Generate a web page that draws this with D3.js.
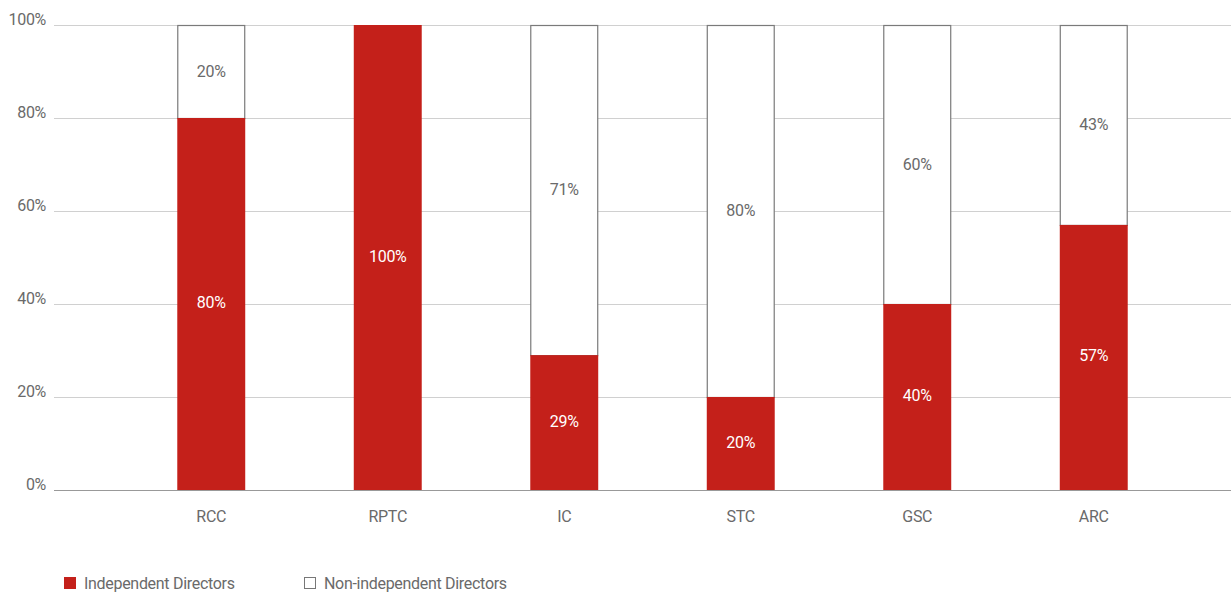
<!DOCTYPE html>
<html>
  <head>
    <meta charset="utf-8">
    <title>Independent Directors</title>
    <style>
      body { margin: 0; background: white; }
      svg text { font-family: "Roboto", sans-serif; font-size: 16px; letter-spacing: -0.3px; }
      .grid line { stroke: #d0d0d0; shape-rendering: crispEdges; }
      .axis text, .legend text { fill: #6a6a6a; }
    </style>
  </head>
  <body>
  <svg id="chart" width="1231" height="593"></svg>
  <script src="https://d3js.org/d3.v7.min.js"></script>
  <script>

  var committees = ["RCC", "RPTC", "IC", "STC", "GSC", "ARC"];
  var independent = [80, 100, 29, 20, 40, 57];
  var nonIndependent = [20, 0, 71, 80, 60, 43];
  var yTicks = [0, 20, 40, 60, 80, 100];
  var seriesNames = ["Independent Directors", "Non-independent Directors"];

  var red = "#c4201a";
  var svg = d3.select("#chart");

  var x = d3.scaleBand()
    .domain(committees)
    .range([123, 1182])
    .paddingInner(0.615)
    .paddingOuter(0.3075);

  var y = d3.scaleLinear()
    .domain([0, 100])
    .range([490, 25]);

  // gridlines
  svg.append("g").attr("class", "grid")
    .selectAll("line")
    .data(yTicks)
    .enter().append("line")
    .attr("x1", 54).attr("x2", 1231)
    .attr("y1", function(d) { return Math.round(y(d)) + 0.5; })
    .attr("y2", function(d) { return Math.round(y(d)) + 0.5; })
    .style("stroke", function(d) { return d === 0 ? "#999" : "#d0d0d0"; })
    .style("stroke-width", function(d) { return d === 0 ? 1.5 : 1; });

  // y labels
  svg.append("g").attr("class", "axis")
    .selectAll("text")
    .data(yTicks)
    .enter().append("text")
    .attr("x", 46)
    .attr("y", function(d) { return y(d) - 0.5; })
    .attr("text-anchor", "end")
    .text(function(d) { return d + "%"; });

  var rows = committees.map(function(c, i) {
    return { name: c, ind: independent[i], non: nonIndependent[i] };
  });

  var bars = svg.append("g").selectAll("g")
    .data(rows)
    .enter().append("g");

  // non-independent (white, outlined) on top
  bars.filter(function(d) { return d.non > 0; })
    .append("rect")
    .attr("x", function(d) { return x(d.name) + 0.5; })
    .attr("width", x.bandwidth() - 1)
    .attr("y", function(d) { return y(100) + 0.5; })
    .attr("height", function(d) { return y(d.ind) - y(100); })
    .style("fill", "white")
    .style("stroke", "#7a7a7a")
    .style("stroke-width", 1.2);

  bars.append("rect")
    .attr("x", function(d) { return x(d.name); })
    .attr("width", x.bandwidth())
    .attr("y", function(d) { return y(d.ind); })
    .attr("height", function(d) { return y(0) - y(d.ind); })
    .style("fill", red);

  bars.append("text")
    .attr("x", function(d) { return x(d.name) + x.bandwidth() / 2; })
    .attr("y", function(d) { return (y(0) + y(d.ind)) / 2 + 4; })
    .attr("text-anchor", "middle")
    .style("fill", "white")
    .text(function(d) { return d.ind + "%"; });

  bars.filter(function(d) { return d.non > 0; })
    .append("text")
    .attr("x", function(d) { return x(d.name) + x.bandwidth() / 2; })
    .attr("y", function(d) { return (y(100) + y(d.ind)) / 2 + 5; })
    .attr("text-anchor", "middle")
    .style("fill", "#6a6a6a")
    .text(function(d) { return d.non + "%"; });

  // x labels
  svg.append("g").attr("class", "axis")
    .selectAll("text")
    .data(committees)
    .enter().append("text")
    .attr("x", function(d) { return x(d) + x.bandwidth() / 2; })
    .attr("y", 522)
    .attr("text-anchor", "middle")
    .text(function(d) { return d; });

  // legend
  var legend = svg.append("g").attr("class", "legend");
  var legX = [64, 304];
  seriesNames.forEach(function(name, i) {
    legend.append("rect")
      .attr("x", legX[i] + (i ? 0.5 : 0))
      .attr("y", 577 + (i ? 0.5 : 0))
      .attr("width", i ? 11 : 12)
      .attr("height", i ? 11 : 12)
      .style("fill", i ? "white" : red)
      .style("stroke", i ? "#777" : "none");
    legend.append("text")
      .attr("x", legX[i] + 20)
      .attr("y", 589)
      .text(name);
  });
  </script>
  </body>
</html>
